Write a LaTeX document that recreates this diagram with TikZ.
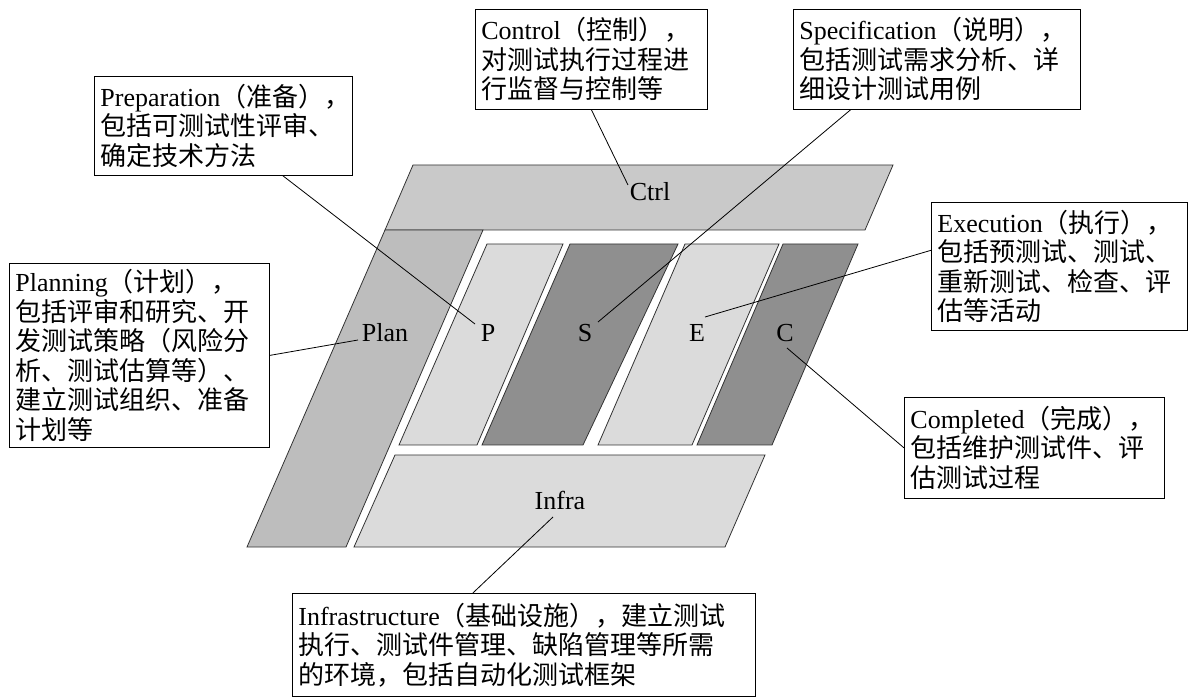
\documentclass[tikz,border=0pt]{standalone}
\usepackage{fontspec}
\setmainfont{Liberation Serif}
\newfontfamily\cjk{Noto Sans CJK SC}
\usepackage{tikz}
\usetikzlibrary{calc,positioning}
\definecolor{lightband}{gray}{0.86}
\definecolor{midband}{gray}{0.74}
\definecolor{darkband}{gray}{0.56}
\definecolor{ctrlband}{gray}{0.79}
\tikzset{band/.style={draw=black!80,line width=0.8pt}}
\tikzset{tag/.style={font=\fontsize{26}{30}\selectfont,inner sep=0pt}}
\tikzset{note/.style={draw,fill=white,line width=0.8pt,anchor=north west,align=left,
        inner sep=6pt,font=\fontsize{26}{29.5}\selectfont}}
\tikzset{lead/.style={line width=0.8pt}}
\newcommand{\zh}[1]{{\cjk #1}}

\begin{document}
\begin{tikzpicture}[x=1pt,y=-1pt]
                \useasboundingbox (0,0) rectangle (1192,700);
                % bands
                \fill[ctrlband,band] (413,165) -- (893,165) -- (865,230) -- (385,230) -- cycle;
                \fill[midband,band] (385,230) -- (483,230) -- (346,547) -- (247,547) -- cycle;
                \fill[lightband,band] (487,244) -- (563,244) -- (477,445) -- (399,445) -- cycle;
                \fill[darkband,band] (570,244) -- (678,244) -- (583,445) -- (482,445) -- cycle;
                \fill[lightband,band] (685,244) -- (779,244) -- (692,445) -- (598,445) -- cycle;
                \fill[darkband,band] (783,244) -- (858,244) -- (772,445) -- (697,445) -- cycle;
                \fill[lightband,band] (395,455) -- (765,455) -- (725,547) -- (354,547) -- cycle;
                \node[tag] (ctrl) at (650,192) {Ctrl};
                \node[tag] (plan) at (385,333) {Plan};
                \node[tag] (p) at (488,333) {P};
                \node[tag] (s) at (585,333) {S};
                \node[tag] (e) at (697,333) {E};
                \node[tag] (c) at (785,333) {C};
                \node[tag] (infra) at (560,500) {Infra};
                % leader ends
                \coordinate (pEnd) at (475,324);
                \coordinate (ctrlEnd) at (628,185);
                \coordinate (sEnd) at (598,322);
                \coordinate (eEnd) at (705,317);
                \coordinate (cEnd) at (787,348);
                \coordinate (planEnd) at (358,340);
                \coordinate (infraEnd) at (553,517);
                % notes
                \node[note,minimum width=258,minimum height=99,text width=246] (prepNote) at (94,76)
                    {Preparation\zh{（准备），}\\\zh{包括可测试性评审、}\\\zh{确定技术方法}};
                \node[note,minimum width=232,minimum height=100,text width=220] (ctrlNote) at (475,9)
                    {Control\zh{（控制），}\\\zh{对测试执行过程进}\\\zh{行监督与控制等}};
                \node[note,minimum width=287,minimum height=100,text width=275] (specNote) at (793,9)
                    {Specification\zh{（说明），}\\\zh{包括测试需求分析、详}\\\zh{细设计测试用例}};
                \node[note,minimum width=260,minimum height=184,text width=248] (planNote) at (9,263)
                    {Planning\zh{（计划），}\\\zh{包括评审和研究、开}\\\zh{发测试策略（风险分}\\\zh{析、测试估算等）、}\\\zh{建立测试组织、准备}\\\zh{计划等}};
                \node[note,minimum width=256,minimum height=128,text width=244] (execNote) at (931,202)
                    {Execution\zh{（执行），}\\\zh{包括预测试、测试、}\\\zh{重新测试、检查、评}\\\zh{估等活动}};
                \node[note,minimum width=260,minimum height=101,text width=248] (compNote) at (904,397)
                    {Completed\zh{（完成），}\\\zh{包括维护测试件、评}\\\zh{估测试过程}};
                \node[note,minimum width=463,minimum height=103,text width=451] (infraNote) at (292,593)
                    {Infrastructure\zh{（基础设施），建立测试}\\\zh{执行、测试件管理、缺陷管理等所需}\\\zh{的环境，包括自动化测试框架}};
                % leaders
                \draw[lead] ($(prepNote.south west)!0.73!(prepNote.south east)$) -- (pEnd);
                \draw[lead] (ctrlNote.south) -- (ctrlEnd);
                \draw[lead] ($(specNote.south west)!0.2!(specNote.south east)$) -- (sEnd);
                \draw[lead] ($(execNote.north west)!0.375!(execNote.south west)$) -- (eEnd);
                \draw[lead] (compNote.west) -- (cEnd);
                \draw[lead] (planNote.east) -- (planEnd);
                \draw[lead] ($(infraNote.north west)!0.39!(infraNote.north east)$) -- (infraEnd);
\end{tikzpicture}
\end{document}
